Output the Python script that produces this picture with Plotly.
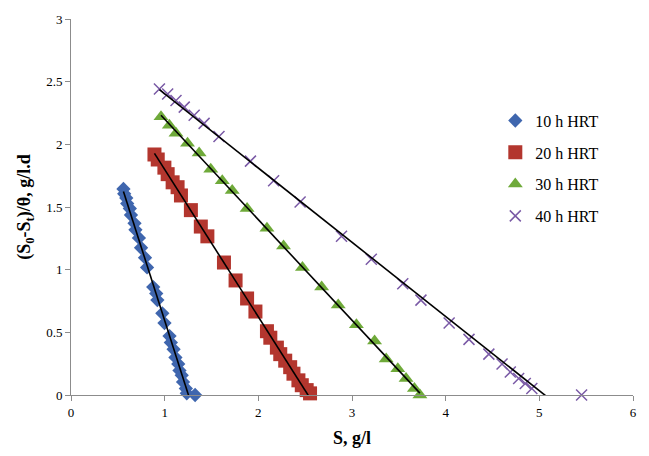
import numpy as np
import plotly.graph_objects as go

# ---------------- data ----------------
s_10h = [0.560, 0.568, 0.590, 0.600, 0.628, 0.640, 0.678, 0.688, 0.725, 0.748, 0.790, 0.812,
         0.878, 0.910, 0.922, 0.975, 0.998, 1.052, 1.066, 1.095, 1.115, 1.145, 1.158, 1.182,
         1.196, 1.226, 1.236, 1.325]
r_10h = [1.644, 1.605, 1.572, 1.527, 1.488, 1.436, 1.370, 1.318, 1.253, 1.175, 1.096, 1.018,
         0.861, 0.809, 0.757, 0.652, 0.574, 0.470, 0.418, 0.365, 0.300, 0.248, 0.196, 0.157,
         0.104, 0.052, 0.013, 0.000]

s_20h = [0.891, 0.926, 0.997, 1.032, 1.085, 1.138, 1.174, 1.280, 1.386, 1.456, 1.633, 1.757,
         1.880, 1.969, 2.092, 2.128, 2.198, 2.234, 2.287, 2.340, 2.375, 2.428, 2.464, 2.516, 2.552]
r_20h = [1.919, 1.879, 1.814, 1.762, 1.697, 1.658, 1.592, 1.475, 1.344, 1.266, 1.057, 0.914,
         0.770, 0.666, 0.509, 0.457, 0.378, 0.326, 0.274, 0.222, 0.170, 0.117, 0.078, 0.039, 0.013]

s_30h = [0.961, 1.050, 1.121, 1.244, 1.368, 1.492, 1.615, 1.721, 1.880, 2.092, 2.269, 2.471,
         2.676, 2.853, 3.047, 3.241, 3.365, 3.489, 3.577, 3.666, 3.725]
r_30h = [2.220, 2.153, 2.088, 2.009, 1.931, 1.801, 1.710, 1.631, 1.488, 1.331, 1.188, 1.018,
         0.861, 0.718, 0.561, 0.431, 0.287, 0.209, 0.131, 0.052, 0.000]

s_40h = [0.944, 1.032, 1.121, 1.209, 1.315, 1.421, 1.580, 1.916, 2.163, 2.446, 2.888, 3.206,
         3.542, 3.736, 4.037, 4.249, 4.461, 4.602, 4.690, 4.779, 4.850, 4.920, 5.451]
r_40h = [2.441, 2.401, 2.349, 2.297, 2.232, 2.167, 2.062, 1.866, 1.710, 1.540, 1.266, 1.083,
         0.887, 0.757, 0.574, 0.444, 0.326, 0.248, 0.183, 0.131, 0.091, 0.052, 0.000]

series_names = ["10 h HRT", "20 h HRT", "30 h HRT", "40 h HRT"]
x_ticks = [0, 1, 2, 3, 4, 5, 6]
y_ticks = [0, 0.5, 1, 1.5, 2, 2.5, 3]

# ---------------- styling ----------------
SERIF = "Liberation Serif, Times New Roman, serif"
styles = [
    dict(symbol="diamond", color="#3F66AE", size=11, line=dict(width=0)),
    dict(symbol="square", color="#B3362E", size=14, line=dict(width=0)),
    dict(symbol="triangle-up", color="#6FAA3A", size=13, line=dict(width=0)),
    dict(symbol="x-thin-open", color="#7A5AA6", size=11, line=dict(width=1.5, color="#7A5AA6")),
]

fig = go.Figure()
all_data = [(s_10h, r_10h), (s_20h, r_20h), (s_30h, r_30h), (s_40h, r_40h)]

for (sx, ry), name, st in zip(all_data, series_names, styles):
    fig.add_trace(go.Scatter(
        x=sx, y=ry, mode="markers", name=name, legendgroup=name,
        marker=st, cliponaxis=False,
    ))

# linear trendlines (fitted from the data, spanning the data range)
for (sx, ry), name in zip(all_data, series_names):
    k, b = np.polyfit(sx, ry, 1)
    xs = np.array([min(sx), max(sx)])
    fig.add_trace(go.Scatter(
        x=xs, y=k * xs + b, mode="lines", showlegend=False,
        line=dict(color="black", width=1.6), hoverinfo="skip",
    ))

axis_common = dict(
    showgrid=False, zeroline=False, showline=True, linecolor="#8c8c8c", linewidth=1,
    ticks="outside", ticklen=5, tickcolor="#8c8c8c",
    tickfont=dict(family=SERIF, size=13, color="black"),
)

fig.update_layout(
    width=649, height=456,
    margin=dict(l=71, r=12, t=12, b=61),
    paper_bgcolor="white", plot_bgcolor="white",
    xaxis=dict(range=[0, 6], tickvals=x_ticks, ticktext=[str(v) for v in x_ticks],
               title=dict(text="<b>S, g/l</b>", font=dict(family=SERIF, size=18, color="black"),
                          standoff=12),
               **axis_common),
    yaxis=dict(range=[0, 3], tickvals=y_ticks, ticktext=[("%g" % v) for v in y_ticks],
               title=dict(text="<b>(S<sub>0</sub>-S<sub>t</sub>)/θ, g/l.d</b>",
                          font=dict(family=SERIF, size=18, color="black"), standoff=10),
               **axis_common),
    legend=dict(x=0.755, y=0.775, xanchor="left", yanchor="top",
                font=dict(family=SERIF, size=16, color="black"),
                bgcolor="rgba(0,0,0,0)", tracegroupgap=8, itemwidth=30),
    showlegend=True,
)

fig.write_html("out.html")
